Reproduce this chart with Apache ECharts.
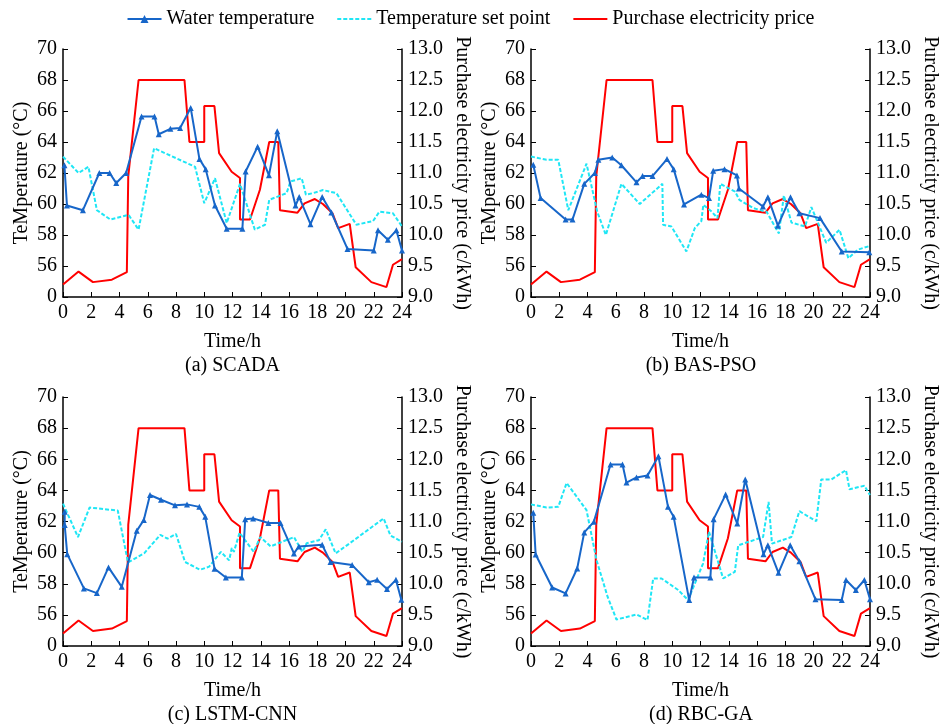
<!DOCTYPE html>
<html>
<head>
<meta charset="utf-8">
<script src="https://cdn.jsdelivr.net/npm/echarts@6/dist/echarts.min.js"></script>
<style>
  html,body{margin:0;padding:0;background:#fff;}
  #main{width:941px;height:724px;}
</style>
</head>
<body>
<div id="main"></div>
<script>
// x = hour of day, y = value
var price = [[0,9.2],[1.1,9.41],[2.12,9.24],[3.46,9.28],[4.52,9.4],[4.62,10.95],[5.35,12.5],[8.6,12.5],[8.95,11.5],[10.0,11.5],[10.0,12.08],[10.72,12.08],[11.05,11.32],[11.94,11.02],[12.53,10.92],[12.53,10.25],[13.24,10.25],[13.94,10.73],[14.6,11.5],[15.24,11.5],[15.36,10.4],[16.6,10.36],[17.1,10.51],[17.83,10.58],[18.4,10.5],[19.08,10.35],[19.48,10.11],[20.3,10.18],[20.72,9.48],[21.83,9.24],[22.9,9.16],[23.36,9.52],[24,9.61]];

var scadaWater = [[0.1,62.5],[0.28,59.9],[1.41,59.6],[2.57,62.0],[3.3,62.0],[3.77,61.35],[4.47,62.0],[5.56,65.65],[6.48,65.65],[6.78,64.5],[7.6,64.85],[8.29,64.9],[9.04,66.2],[9.66,62.9],[10.1,62.25],[10.76,59.9],[11.59,58.4],[12.7,58.4],[12.93,62.1],[13.78,63.7],[14.58,61.85],[15.17,64.7],[16.46,59.9],[16.72,60.45],[17.52,58.7],[18.35,60.45],[19.0,59.45],[20.14,57.1],[22.0,57.0],[22.3,58.3],[23.0,57.7],[23.6,58.3],[24,57.0]];
var scadaSet = [[0,63.06],[1.1,62.0],[1.8,62.4],[2.4,59.6],[3.35,59.0],[4.64,59.3],[5.35,58.35],[6.45,63.6],[9.35,62.4],[10.0,60.05],[10.76,61.66],[11.59,58.77],[12.53,61.3],[13.58,58.35],[14.3,58.66],[14.6,60.27],[15.83,60.7],[16.1,61.45],[16.9,61.66],[17.2,60.6],[17.7,60.7],[18.4,60.9],[19.36,60.7],[20.77,58.66],[21.95,58.9],[22.4,59.5],[23.36,59.4],[24,58.55]];

var basWater = [[0.16,62.53],[0.68,60.38],[2.45,59.0],[2.94,59.0],[3.77,61.3],[4.52,62.0],[4.77,62.85],[5.75,63.0],[6.4,62.5],[7.47,61.4],[7.9,61.8],[8.6,61.8],[9.63,62.9],[10.1,62.25],[10.83,59.97],[12.06,60.6],[12.6,60.38],[12.9,62.14],[13.7,62.25],[14.58,61.84],[14.72,61.0],[16.42,59.84],[16.77,60.44],[17.48,58.6],[18.37,60.44],[19.0,59.4],[20.46,59.09],[22.0,56.94],[23.95,56.88]];
var basSet = [[0,63.06],[1.1,62.85],[1.93,62.85],[2.64,59.6],[3.93,62.6],[4.69,59.5],[5.3,58.0],[6.4,61.3],[7.7,60.0],[9.3,61.3],[9.35,58.66],[9.94,58.55],[11.0,56.94],[11.6,58.45],[12.06,58.9],[12.2,59.95],[12.8,59.5],[13.2,59.09],[13.4,61.3],[14.45,60.8],[14.75,60.27],[15.74,59.73],[16.68,59.5],[17.55,58.1],[17.9,60.55],[18.44,58.8],[19.4,58.55],[19.85,59.8],[20.9,57.5],[21.84,58.34],[22.47,56.5],[23.13,57.05],[24,57.3]];

var lstmWater = [[0.12,62.62],[0.12,61.77],[0.3,59.9],[1.48,57.7],[2.4,57.4],[3.22,59.05],[4.16,57.8],[5.22,61.4],[5.72,62.1],[6.16,63.7],[6.94,63.4],[7.93,63.04],[8.78,63.1],[9.65,62.94],[10.07,62.3],[10.73,58.96],[11.53,58.4],[12.66,58.4],[12.9,62.15],[13.46,62.2],[14.54,61.9],[15.4,61.9],[16.35,59.95],[16.7,60.4],[18.35,60.5],[18.94,59.4],[20.47,59.2],[21.65,58.1],[22.24,58.25],[22.94,57.66],[23.57,58.25],[23.95,56.97]];
var lstmSet = [[0,63.15],[1.06,61.0],[1.88,62.9],[3.88,62.7],[4.6,59.37],[5.76,59.97],[6.89,61.14],[7.4,60.9],[8.0,61.2],[8.64,59.4],[9.7,58.9],[10.35,59.1],[11.18,60.05],[11.76,59.5],[11.95,60.3],[12.1,60.05],[12.5,61.28],[13.5,60.05],[13.97,61.0],[14.7,60.4],[16.35,61.0],[16.94,60.05],[17.25,60.6],[18.12,60.8],[18.6,61.5],[19.3,59.95],[20.3,60.6],[22.7,62.2],[23.18,61.1],[24,60.7]];

var rbcWater = [[0.16,62.56],[0.33,59.88],[1.5,57.76],[2.45,57.38],[3.27,58.98],[3.77,61.3],[4.45,61.98],[5.63,65.66],[6.48,65.66],[6.76,64.5],[7.47,64.83],[8.25,64.96],[9.02,66.2],[9.7,62.94],[10.1,62.3],[11.2,56.95],[11.54,58.4],[12.7,58.4],[12.93,62.15],[13.78,63.73],[14.6,61.87],[15.17,64.7],[16.46,59.9],[16.77,60.47],[17.52,58.7],[18.35,60.47],[19.0,59.45],[20.14,57.0],[22.0,56.95],[22.3,58.24],[23.0,57.6],[23.6,58.24],[24,57.0]];
var rbcSet = [[0,63.1],[1.1,62.9],[1.93,62.94],[2.52,64.48],[3.93,62.73],[4.64,59.52],[5.42,57.17],[6.05,55.7],[7.47,56.03],[8.25,55.67],[8.65,58.34],[9.24,58.34],[10.42,57.6],[11.12,56.95],[12.18,59.3],[12.6,61.34],[13.6,58.34],[14.43,58.77],[14.67,60.47],[16.43,61.0],[16.82,63.26],[17.06,60.58],[18.43,61.0],[19.0,62.66],[20.2,62.02],[20.55,64.7],[21.26,64.7],[22.3,65.3],[22.55,64.07],[23.6,64.3],[24,63.7]];

var panelTitles = ['(a) SCADA', '(b) BAS-PSO', '(c) LSTM-CNN', '(d) RBC-GA'];
var waterList = [scadaWater, basWater, lstmWater, rbcWater];
var setList = [scadaSet, basSet, lstmSet, rbcSet];

var FONT = 'Liberation Serif';
var grids = [
  {left:63, top:49, width:339, height:248},
  {left:531, top:49, width:340, height:248},
  {left:63, top:397, width:339, height:249},
  {left:531, top:397, width:340, height:249}
];

var axisLine = {lineStyle:{color:'#000', width:1.5}};
var labelStyle = {color:'#000', fontSize:20, fontFamily:FONT};
var tickStyle = {inside:true, length:5, lineStyle:{color:'#000'}};
var hideMark = {color:'rgba(0,0,0,0)', borderWidth:0};   // legend icon = plain line
var xAxes = [], yAxes = [], series = [], graphics = [];

for (var i = 0; i < 4; i++) {
  var g = grids[i];
  xAxes.push({
    type:'value', gridIndex:i, min:0, max:24, interval:2,
    axisLine:axisLine, axisTick:tickStyle,
    axisLabel:Object.assign({margin:6}, labelStyle),
    splitLine:{show:false},
    name:'Time/h', nameLocation:'middle', nameGap:35,
    nameTextStyle:labelStyle
  });
  yAxes.push({
    type:'value', gridIndex:i, position:'left', min:54, max:70, interval:2,
    axisLine:Object.assign({onZero:false}, axisLine), axisTick:tickStyle,
    axisLabel:Object.assign({margin:6, formatter:function(v){ return v == 54 ? '0' : v; }}, labelStyle),
    splitLine:{show:false},
    name:'TeMperature (°C)', nameLocation:'middle', nameGap:31,
    nameTextStyle:labelStyle
  });
  yAxes.push({
    type:'value', gridIndex:i, position:'right', min:9, max:13, interval:0.5,
    axisLine:Object.assign({onZero:false}, axisLine), axisTick:tickStyle,
    axisLabel:Object.assign({margin:6, formatter:function(v){ return v.toFixed(1); }}, labelStyle),
    splitLine:{show:false},
    name:'Purchase electricity price (c/kWh)', nameLocation:'middle', nameGap:50, nameRotate:-90,
    nameTextStyle:labelStyle
  });
  series.push({
    name:'Purchase electricity price', type:'line', xAxisIndex:i, yAxisIndex:2*i+1,
    data:price, symbol:'circle', showSymbol:false,
    lineStyle:{color:'#ff0000', width:2}, itemStyle:{color:'#ff0000'}, z:2
  });
  series.push({
    name:'Temperature set point', type:'line', xAxisIndex:i, yAxisIndex:2*i,
    data:setList[i], symbol:'circle', showSymbol:false,
    lineStyle:{color:'#1fe6f5', width:2, type:[4,2]}, itemStyle:{color:'#1fe6f5'}, z:3
  });
  series.push({
    name:'Water temperature', type:'line', xAxisIndex:i, yAxisIndex:2*i,
    data:waterList[i], symbol:'triangle', symbolSize:6, showAllSymbol:true,
    lineStyle:{color:'#1766c9', width:2}, itemStyle:{color:'#1766c9'}, z:4
  });
  graphics.push({
    type:'text', x:g.left + g.width/2, y:g.top + g.height + 59,
    style:{text:panelTitles[i], fill:'#000', font:'20px "' + FONT + '"', textAlign:'center'}
  });
}

var chart = echarts.init(document.getElementById('main'));
chart.setOption({
  animation:false,
  backgroundColor:'#fff',
  legend:{
    top:4, left:'center', itemWidth:34, itemHeight:10, itemGap:22,
    textStyle:{color:'#000', fontSize:20, fontFamily:FONT},
    data:[
      {name:'Water temperature'},
      {name:'Temperature set point', itemStyle:hideMark},
      {name:'Purchase electricity price', itemStyle:hideMark}
    ]
  },
  grid:grids,
  xAxis:xAxes,
  yAxis:yAxes,
  series:series,
  graphic:graphics
});
</script>
</body>
</html>
